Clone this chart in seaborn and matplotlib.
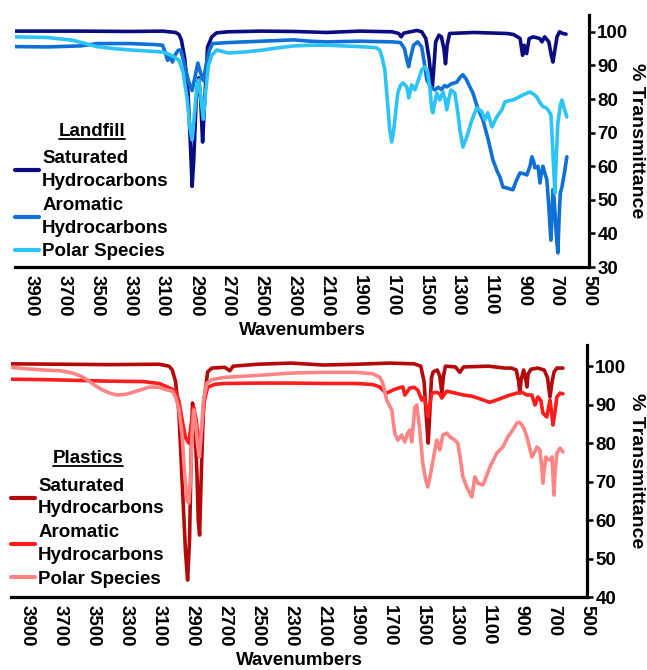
import numpy as np
import pandas as pd
import matplotlib
matplotlib.use("Agg")
import matplotlib.pyplot as plt
from matplotlib.lines import Line2D
import seaborn as sns

# ---------------- data ----------------
series_names = ["Saturated\nHydrocarbons", "Aromatic\nHydrocarbons", "Polar Species"]

# Landfill
landfill_sat_wn = [4000, 3600, 3300, 3100, 3020, 3000, 2985, 2965, 2945, 2930, 2920, 2910, 2895, 2880, 2868, 2856, 2845, 2826, 2800, 2770, 2700, 2500, 2300, 2100, 1900, 1700, 1660, 1645, 1630, 1550, 1520, 1495, 1475, 1462, 1455, 1448, 1435, 1415, 1400, 1385, 1375, 1365, 1350, 1200, 1000, 960, 920, 905, 895, 880, 865, 840, 800, 787, 770, 745, 730, 720, 710, 695, 680, 660, 640]
landfill_sat_T = [100.2, 100.2, 100.1, 100.2, 99.8, 99.2, 97.5, 92, 82, 66, 54, 62, 80, 86.3, 80, 67.2, 78, 95.5, 98.5, 99.7, 100, 100.2, 100.1, 99.8, 100.2, 100, 99.5, 98.5, 99.6, 100.4, 100, 98, 92, 86, 83.8, 88, 97, 99, 98.5, 95, 90.5, 96, 99.5, 99.8, 99.5, 99.2, 98, 93, 96, 93.5, 98, 98.5, 98, 97, 98.5, 97, 93, 91, 94, 98.5, 100, 99.5, 99.3]

landfill_aro_wn = [4000, 3800, 3600, 3500, 3300, 3150, 3100, 3085, 3070, 3055, 3040, 3025, 3005, 2990, 2965, 2940, 2920, 2905, 2885, 2870, 2852, 2835, 2815, 2795, 2700, 2500, 2300, 2200, 2100, 1900, 1700, 1650, 1625, 1610, 1600, 1590, 1570, 1545, 1520, 1505, 1489, 1470, 1458, 1440, 1420, 1400, 1380, 1367, 1340, 1306, 1285, 1269, 1250, 1230, 1208, 1180, 1147, 1115, 1086, 1060, 1043, 1025, 1000, 980, 964, 945, 921, 900, 879, 860, 848, 838, 830, 811, 799, 790, 781, 770, 757, 745, 738, 732, 726, 720, 712, 700, 690, 682, 675, 665, 650, 635]
landfill_aro_T = [95.6, 95.5, 95.8, 96.5, 96.5, 96.2, 96, 94, 91.5, 92.5, 91, 93, 94.5, 94.6, 90, 85, 82.5, 86, 90.7, 88, 85.5, 90, 94.5, 96.5, 96.8, 97.2, 97.6, 97.2, 97, 97.2, 97, 96.8, 95, 91.5, 89.6, 92, 96, 97, 95.5, 91, 85.7, 84, 83.3, 82.7, 83.5, 82.8, 84, 83.6, 84.5, 85, 86.5, 87.2, 86, 84, 81.8, 77.5, 73.8, 68, 61.9, 58.5, 56.8, 53.8, 53.5, 53.2, 53, 55.5, 58, 57.8, 57.4, 60, 62.8, 61.5, 59.5, 60, 55, 58, 60, 58, 56, 48, 42, 38, 45, 53, 50, 40, 34.2, 45, 52, 53.8, 58, 62.8]

landfill_pol_wn = [4000, 3800, 3650, 3500, 3400, 3300, 3200, 3100, 3060, 3030, 3000, 2975, 2950, 2935, 2920, 2905, 2890, 2880, 2868, 2852, 2838, 2820, 2800, 2770, 2700, 2600, 2500, 2400, 2300, 2200, 2100, 2000, 1900, 1800, 1776, 1760, 1745, 1730, 1715, 1703, 1690, 1684, 1666, 1650, 1635, 1611, 1599, 1581, 1562, 1544, 1520, 1501, 1483, 1470, 1458, 1452, 1440, 1428, 1410, 1391, 1378, 1367, 1355, 1342, 1318, 1300, 1287, 1269, 1245, 1214, 1184, 1153, 1135, 1117, 1092, 1062, 1031, 1013, 990, 964, 930, 903, 860, 840, 818, 800, 781, 765, 750, 732, 720, 708, 700, 690, 675, 665, 650, 635]
landfill_pol_T = [98.5, 98.3, 97.5, 95.6, 95, 94.6, 94.3, 94, 93.3, 92.5, 91.5, 88, 80, 72, 67.8, 76, 84, 85.7, 81, 74, 82, 90, 93, 94.6, 93.7, 94, 94.5, 95.2, 95.8, 96, 96, 95.8, 95.6, 95.3, 94.6, 92, 88.7, 80, 70.8, 67.2, 71, 73.8, 81.8, 84, 84.8, 83.6, 80.3, 84.2, 82.7, 85.1, 88.7, 89.6, 88, 83, 76.8, 75.9, 79, 81.8, 79.7, 82.1, 80, 76.8, 80, 82.7, 81.8, 76, 70.8, 65.7, 68.7, 73.8, 77.4, 76.2, 73.8, 75.9, 71.7, 74.7, 76.8, 79.1, 79.5, 79.7, 80.5, 81.2, 82.1, 81.5, 80.6, 79, 77.7, 77.5, 76.8, 75.3, 64, 52, 62, 72.9, 78, 79.7, 77, 74.7]

# Plastics
plastics_sat_wn = [4000, 3700, 3400, 3100, 3040, 3020, 3000, 2980, 2960, 2940, 2927, 2915, 2905, 2897, 2885, 2870, 2862, 2854, 2845, 2830, 2805, 2780, 2700, 2671, 2650, 2500, 2300, 2100, 1900, 1700, 1550, 1510, 1490, 1475, 1465, 1455, 1445, 1435, 1410, 1395, 1382, 1372, 1360, 1300, 1273, 1250, 1100, 1000, 960, 930, 915, 908, 900, 885, 870, 865, 858, 840, 800, 760, 740, 725, 712, 700, 683, 646]
plastics_sat_T = [100.6, 100.5, 100.4, 100.5, 100, 99, 96, 88, 70, 52, 44.4, 55, 78, 90.4, 86, 72, 60, 56.1, 70, 90, 98.5, 99.5, 99.7, 98.8, 100, 100.5, 100.8, 100.3, 100.5, 100.8, 100.6, 100, 96, 86, 80, 88, 97, 98.5, 99, 97.5, 93, 97.5, 100, 99.8, 98.4, 99.8, 100, 99.5, 99.5, 99, 96, 93, 96.5, 99, 96, 94.6, 98, 99.2, 99.5, 99, 97, 92, 96, 98.5, 99.5, 99.5]

plastics_aro_wn = [4000, 3800, 3600, 3400, 3200, 3100, 3050, 3020, 3000, 2980, 2960, 2940, 2920, 2905, 2890, 2875, 2862, 2852, 2840, 2825, 2805, 2760, 2700, 2500, 2300, 2100, 1900, 1800, 1759, 1735, 1717, 1680, 1640, 1619, 1607, 1590, 1577, 1550, 1528, 1504, 1490, 1475, 1467, 1455, 1443, 1413, 1395, 1382, 1370, 1352, 1300, 1250, 1200, 1150, 1090, 1050, 1000, 960, 926, 895, 865, 835, 816, 798, 780, 768, 755, 744, 735, 725, 715, 707, 695, 683, 664, 646]
plastics_aro_T = [96.6, 96.5, 96.3, 96.1, 96, 95.5, 94.6, 94, 93.5, 91, 86, 81.5, 80, 85, 89.4, 86, 81, 79, 84, 91, 94.5, 95.3, 95.5, 95.6, 95.6, 95.5, 95.5, 95.2, 94.6, 93.5, 93, 93.8, 94.4, 94.6, 92.5, 93.5, 94.3, 94.5, 93.8, 91.2, 92, 89, 86.8, 90, 93, 93.2, 92.8, 91.7, 92.5, 93.5, 93, 92.5, 92.2, 91.5, 90.6, 91.2, 92, 92.6, 93, 93.2, 92.5, 92.5, 89.9, 92, 91, 87.8, 87.2, 86.8, 89, 91.2, 88, 84.7, 88, 92, 93, 92.8]

plastics_pol_wn = [4000, 3900, 3800, 3700, 3626, 3580, 3535, 3490, 3444, 3400, 3359, 3300, 3261, 3200, 3158, 3100, 3050, 3020, 3000, 2980, 2960, 2945, 2930, 2920, 2910, 2900, 2890, 2878, 2865, 2855, 2845, 2830, 2811, 2780, 2700, 2500, 2300, 2100, 1900, 1800, 1759, 1741, 1717, 1686, 1668, 1650, 1626, 1607, 1590, 1577, 1565, 1546, 1534, 1516, 1498, 1480, 1467, 1455, 1443, 1413, 1394, 1376, 1352, 1330, 1303, 1285, 1270, 1254, 1230, 1200, 1181, 1163, 1133, 1110, 1090, 1048, 1011, 981, 950, 926, 910, 895, 880, 865, 850, 835, 820, 804, 786, 775, 768, 760, 750, 740, 725, 713, 707, 701, 695, 683, 664, 646]
plastics_pol_T = [99.7, 99.3, 99, 98.8, 98.2, 97.5, 96.4, 95, 93.8, 93, 92.5, 92.7, 93.2, 94, 94.6, 94.5, 93.8, 93.5, 92, 89, 82, 72, 65, 64.4, 70, 82, 88.6, 85, 79, 76.4, 82, 91, 95.5, 96.5, 97.1, 97.6, 98.2, 98.4, 98.4, 98, 97.1, 95.6, 91.2, 88.6, 82.6, 80.8, 82.1, 80.3, 82.5, 83.4, 80.3, 89.4, 89.9, 83.4, 74.8, 70.5, 68.6, 71, 73.8, 80.8, 78.2, 82.1, 82.6, 81.5, 80.8, 80, 76, 71.2, 68.5, 66, 71.2, 69.6, 69.1, 71.5, 73.8, 77.4, 79, 81.6, 83.5, 85.2, 85.4, 84.7, 83.5, 81.6, 79, 76.4, 77.5, 79, 78.2, 74, 69.6, 73, 76.4, 75.8, 75.6, 76.4, 72, 66.5, 72, 77.4, 78.7, 77.7]

x_ticks = [3900, 3700, 3500, 3300, 3100, 2900, 2700, 2500, 2300, 2100, 1900, 1700, 1500, 1300, 1100, 900, 700, 500]
landfill_yticks = [30, 40, 50, 60, 70, 80, 90, 100]
plastics_yticks = [40, 50, 60, 70, 80, 90, 100]

landfill_colors = ["#0c0c82", "#1170d8", "#2cc3f7"]
plastics_colors = ["#b40a0a", "#ff1c1c", "#ff8585"]


def make_df(pairs):
    frames = []
    for name, (wn, t) in zip(series_names, pairs):
        frames.append(pd.DataFrame({"wn": wn, "T": t, "series": name}))
    return pd.concat(frames, ignore_index=True)


landfill_df = make_df([(landfill_sat_wn, landfill_sat_T),
                       (landfill_aro_wn, landfill_aro_T),
                       (landfill_pol_wn, landfill_pol_T)])
plastics_df = make_df([(plastics_sat_wn, plastics_sat_T),
                       (plastics_aro_wn, plastics_aro_T),
                       (plastics_pol_wn, plastics_pol_T)])

# ---------------- style ----------------
sns.set_style("white")
plt.rcParams["font.family"] = ["Liberation Sans", "DejaVu Sans"]
plt.rcParams["font.weight"] = "bold"
plt.rcParams["axes.labelweight"] = "bold"
for key in ["text.color", "axes.labelcolor", "xtick.color", "ytick.color"]:
    plt.rcParams[key] = "black"

FS = 13.5
W, H = 647, 670
fig = plt.figure(figsize=(W / 100, H / 100), dpi=100)

ax_top = fig.add_axes([15 / W, 1 - 267 / H, 574 / W, 252 / H])
ax_bot = fig.add_axes([11 / W, 1 - 597 / H, 576 / W, 252 / H])

legends = []
for ax, df, colors, yticks, ylim, title, ly, ylab_x in [
        (ax_top, landfill_df, landfill_colors, landfill_yticks, (30, 105), "Landfill", 0.571, (637 - 15) / 574),
        (ax_bot, plastics_df, plastics_colors, plastics_yticks, (40, 105.5), "Plastics", 0.582, (637 - 11) / 576)]:
    sns.lineplot(data=df, x="wn", y="T", hue="series", palette=colors,
                 hue_order=series_names, estimator=None, sort=True,
                 linewidth=2.6, legend=False, ax=ax)
    ax.set_xlim(4000, 500)
    ax.set_ylim(*ylim)
    ax.set_xticks(x_ticks)
    ax.set_xticklabels([str(v) for v in x_ticks], rotation=270, fontsize=FS,
                       fontweight="bold", va="top", ha="center")
    ax.yaxis.tick_right()
    ax.yaxis.set_label_position("right")
    ax.set_yticks(yticks)
    ax.set_yticklabels([str(v) for v in yticks], fontsize=FS, fontweight="bold")
    for s in ["top", "left"]:
        ax.spines[s].set_visible(False)
    for s in ["bottom", "right"]:
        ax.spines[s].set_linewidth(2.3)
        ax.spines[s].set_color("black")
    ax.tick_params(axis="x", direction="out", length=4, width=1.8, pad=2, colors="black")
    ax.tick_params(axis="y", direction="out", length=4, width=1.8, pad=2, colors="black")
    ax.set_xlabel("Wavenumbers", fontsize=FS, fontweight="bold", labelpad=4, color="black")
    ax.set_ylabel("% Transmittance", fontsize=14, fontweight="bold", rotation=270,
                  va="center", ha="center", color="black")
    ax.yaxis.set_label_coords(ylab_x, 0.5)
    ax.patch.set_alpha(0)

    handles = [Line2D([], [], color=c, lw=3) for c in colors]
    leg = ax.legend(handles, series_names, loc="upper left", bbox_to_anchor=(0.0, ly),
                    frameon=False, borderpad=0, borderaxespad=0, handlelength=1.3,
                    handletextpad=0.15, labelspacing=0.35,
                    prop={"size": FS, "weight": "bold"},
                    title=title, title_fontproperties={"size": FS, "weight": "bold"},
                    labelcolor="black")
    leg.get_title().set_color("black")
    for t in leg.get_texts():
        t.set_linespacing(1.45)
    leg._legend_box.sep = FS * 0.55
    legends.append(leg)

# underline the legend titles
fig.canvas.draw()
inv = fig.transFigure.inverted()
for leg in legends:
    bb = leg.get_title().get_window_extent()
    (x0, y0), (x1, _) = inv.transform([(bb.x0, bb.y0 + 1), (bb.x1, bb.y0 + 1)])
    fig.add_artist(Line2D([x0, x1], [y0, y0], color="black", lw=1.3,
                          transform=fig.transFigure))

fig.savefig("out.png", dpi=100)
